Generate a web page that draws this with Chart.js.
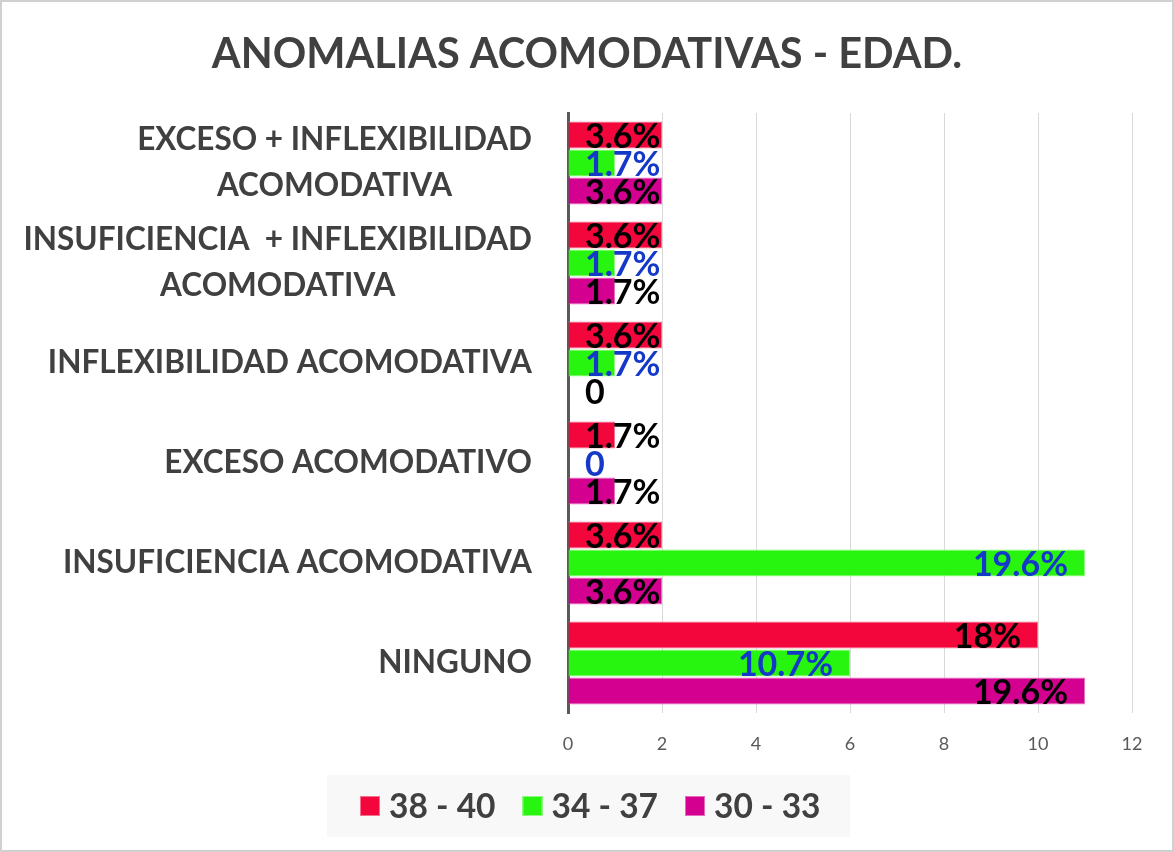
<!DOCTYPE html>
<html lang="es">
<head>
<meta charset="UTF-8">
<title>Anomalias acomodativas - edad</title>
<script src="https://cdn.jsdelivr.net/npm/chart.js@4.4.1/dist/chart.umd.min.js"></script>
<style>
    body { margin: 0; background: #fff; }
</style>
</head>
<body>
<canvas id="myChart" width="1174" height="852"></canvas>
<script>
// datos
var categorias = [
    ['EXCESO + INFLEXIBILIDAD', 'ACOMODATIVA'],
    ['INSUFICIENCIA  + INFLEXIBILIDAD', 'ACOMODATIVA'],
    'INFLEXIBILIDAD ACOMODATIVA',
    'EXCESO ACOMODATIVO',
    'INSUFICIENCIA ACOMODATIVA',
    'NINGUNO'
];
var series = ['38 - 40', '34 - 37', '30 - 33'];
var v3840 = [2, 2, 2, 1, 2, 10];
var v3437 = [1, 1, 1, 0, 11, 6];
var v3033 = [2, 1, 0, 1, 2, 11];
var et3840 = ['3.6%', '3.6%', '3.6%', '1.7%', '3.6%', '18%'];
var et3437 = ['1.7%', '1.7%', '1.7%', '0', '19.6%', '10.7%'];
var et3033 = ['3.6%', '1.7%', '0', '1.7%', '3.6%', '19.6%'];
var ticksX = [0, 2, 4, 6, 8, 10, 12];
var titulo = 'ANOMALIAS ACOMODATIVAS - EDAD.';

var FONT = 'Lato, "Open Sans", sans-serif';
var etiquetas = [et3840, et3437, et3033];
var colorEtiqueta = ['#000000', '#1438c8', '#000000'];

// fondo blanco, borde, titulo y fondo de la leyenda
const fondo = {
    id: 'fondo',
    beforeDraw(chart) {
        const ctx = chart.ctx;
        ctx.save();
        ctx.fillStyle = '#ffffff';
        ctx.fillRect(0, 0, chart.width, chart.height);
        ctx.strokeStyle = '#d0d0d0';
        ctx.lineWidth = 2;
        ctx.strokeRect(1, 1, chart.width - 2, chart.height - 2);

        ctx.fillStyle = '#404040';
        ctx.font = 'bold 41.5px ' + FONT;
        ctx.textAlign = 'center';
        ctx.textBaseline = 'middle';
        ctx.fillText(titulo, 587, 55);

        ctx.fillStyle = '#f8f8f8';
        ctx.fillRect(327, 775, 523, 62);
        ctx.restore();
    }
};

// leyenda
const leyenda = {
    id: 'leyenda',
    afterDraw(chart) {
        const ctx = chart.ctx;
        ctx.save();
        ctx.font = 'bold 33.5px ' + FONT;
        ctx.textAlign = 'left';
        ctx.textBaseline = 'middle';
        let x = 360;
        const cy = 806;
        chart.data.datasets.forEach(function (ds) {
            ctx.fillStyle = ds.backgroundColor;
            ctx.fillRect(x, cy - 10, 20, 20);
            ctx.strokeStyle = ds.borderColor;
            ctx.lineWidth = 1;
            ctx.strokeRect(x + 0.5, cy - 9.5, 19, 19);
            ctx.fillStyle = '#404040';
            ctx.fillText(ds.label, x + 29, cy + 1);
            x += 29 + ctx.measureText(ds.label).width + 27;
        });
        ctx.restore();
    }
};

// etiquetas de categoria
const catLabels = {
    id: 'catLabels',
    afterDraw(chart) {
        const ctx = chart.ctx;
        const y = chart.scales.y;
        ctx.save();
        ctx.font = 'bold 31.5px ' + FONT;
        ctx.fillStyle = '#404040';
        ctx.textAlign = 'center';
        ctx.textBaseline = 'middle';
        categorias.forEach(function (c, i) {
            const lines = Array.isArray(c) ? c : [c];
            let w = 0;
            lines.forEach(function (s) { w = Math.max(w, ctx.measureText(s).width); });
            const cx = 532 - w / 2;
            const cy = y.getPixelForValue(i);
            lines.forEach(function (s, k) {
                ctx.fillText(s, cx, cy + (k - (lines.length - 1) / 2) * 46);
            });
        });
        ctx.restore();
    }
};

// etiquetas de datos al final de la barra
const valueLabels = {
    id: 'valueLabels',
    afterDatasetsDraw(chart) {
        const ctx = chart.ctx;
        const minX = chart.chartArea.left + 17;
        ctx.save();
        ctx.font = 'bold 34px ' + FONT;
        ctx.textAlign = 'left';
        ctx.textBaseline = 'middle';
        chart.data.datasets.forEach(function (ds, d) {
            const meta = chart.getDatasetMeta(d);
            meta.data.forEach(function (bar, i) {
                const txt = etiquetas[d][i];
                const w = ctx.measureText(txt).width;
                const x = Math.max(minX, bar.x - 17 - w);
                ctx.fillStyle = colorEtiqueta[d];
                ctx.fillText(txt, x, bar.y + 2);
            });
        });
        ctx.restore();
    }
};

const config = {
    type: 'bar',
    data: {
        labels: categorias,
        datasets: [
            { label: series[0], data: v3840, backgroundColor: '#f2063c', borderColor: '#f7708f', borderWidth: 1 },
            { label: series[1], data: v3437, backgroundColor: '#28f50f', borderColor: '#8ff97f', borderWidth: 1 },
            { label: series[2], data: v3033, backgroundColor: '#d40090', borderColor: '#e66cbf', borderWidth: 1 }
        ]
    },
    options: {
        indexAxis: 'y',
        responsive: false,
        animation: false,
        layout: { padding: { left: 0, right: 42, top: 113, bottom: 81 } },
        categoryPercentage: 0.84,
        barPercentage: 0.96,
        plugins: {
            title: { display: false },
            legend: { display: false },
            tooltip: { enabled: false }
        },
        scales: {
            x: {
                min: 0,
                max: 12,
                afterBuildTicks: function (s) { s.ticks = ticksX.map(function (v) { return { value: v }; }); },
                ticks: { color: '#595959', font: { family: FONT, size: 18 }, padding: 20 },
                grid: { color: '#d9d9d9', drawTicks: false },
                border: { display: false },
                afterFit: function (s) { s.height = 58; }
            },
            y: {
                grid: { display: false },
                border: { color: '#595959', width: 3 },
                ticks: { display: false },
                afterFit: function (s) { s.width = 568; }
            }
        }
    },
    plugins: [fondo, leyenda, catLabels, valueLabels]
};

var myChart = new Chart(document.getElementById('myChart'), config);
</script>
</body>
</html>
